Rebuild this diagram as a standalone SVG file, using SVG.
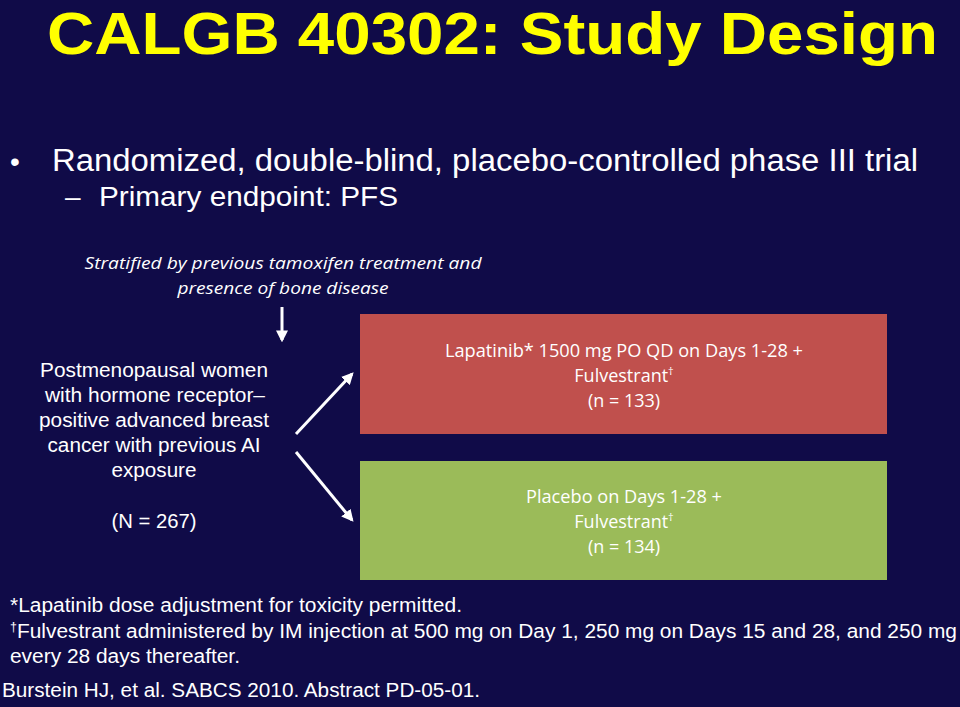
<svg xmlns="http://www.w3.org/2000/svg" width="960" height="707" viewBox="0 0 960 707">
<defs>
<style>
.title{font-family:"Liberation Sans",Arial,sans-serif;font-weight:bold;font-size:60px;fill:#ffff00}
.bul{font-family:"Liberation Sans",Arial,sans-serif;fill:#ffffff}
.it{font-family:"Open Sans","Noto Sans",sans-serif;font-style:italic;font-size:17px;fill:#ffffff;text-anchor:middle}
.lt{font-family:"Liberation Sans",Arial,sans-serif;font-size:20px;fill:#ffffff;text-anchor:middle}
.bx{font-family:"Open Sans","Noto Sans",sans-serif;font-size:18px;fill:#ffffff;text-anchor:middle}
.fn{font-family:"Liberation Sans",Arial,sans-serif;font-size:20px;fill:#ffffff}
.arr{stroke:#ffffff;stroke-width:3;fill:none}
</style>
<marker id="ah" viewBox="0 0 10 10" refX="8" refY="5" markerWidth="4" markerHeight="4" orient="auto" markerUnits="strokeWidth">
<path d="M0,0 L10,5 L0,10 z" fill="#ffffff"/>
</marker>
</defs>
<rect width="960" height="707" fill="#100b48"/>
<text class="title" x="47" y="54" textLength="891" lengthAdjust="spacingAndGlyphs">CALGB 40302: Study Design</text>
<text class="bul" x="10" y="171" font-size="28">•</text>
<text class="bul" x="52" y="171" font-size="31" textLength="866" lengthAdjust="spacingAndGlyphs">Randomized, double-blind, placebo-controlled phase III trial</text>
<text class="bul" x="65" y="206" font-size="28">–</text>
<text class="bul" x="99" y="206" font-size="28" textLength="299" lengthAdjust="spacingAndGlyphs">Primary endpoint: PFS</text>
<g id="strat">
<text class="it" x="283" y="269" textLength="397" lengthAdjust="spacingAndGlyphs">Stratified by previous tamoxifen treatment and</text>
<text class="it" x="283" y="294" textLength="211" lengthAdjust="spacingAndGlyphs">presence of bone disease</text>
</g>
<g id="pop">
<text class="lt" x="154" y="377" textLength="228" lengthAdjust="spacingAndGlyphs">Postmenopausal women</text>
<text class="lt" x="155" y="402" textLength="220" lengthAdjust="spacingAndGlyphs">with hormone receptor–</text>
<text class="lt" x="154" y="427" textLength="230" lengthAdjust="spacingAndGlyphs">positive advanced breast</text>
<text class="lt" x="154" y="452" textLength="213" lengthAdjust="spacingAndGlyphs">cancer with previous AI</text>
<text class="lt" x="154" y="477" textLength="85" lengthAdjust="spacingAndGlyphs">exposure</text>
<text class="lt" x="154" y="528" textLength="85" lengthAdjust="spacingAndGlyphs">(N = 267)</text>
</g>
<g id="armA">
<rect x="360" y="314" width="527" height="120" fill="#c0504d"/>
<text class="bx" x="624" y="357" textLength="358" lengthAdjust="spacingAndGlyphs">Lapatinib* 1500 mg PO QD on Days 1-28 +</text>
<text class="bx" x="624" y="382">Fulvestrant<tspan font-size="11" dy="-7">†</tspan></text>
<text class="bx" x="624" y="407">(n = 133)</text>
</g>
<g id="armB">
<rect x="360" y="461" width="527" height="119" fill="#9bbb59"/>
<text class="bx" x="624" y="503" textLength="196" lengthAdjust="spacingAndGlyphs">Placebo on Days 1-28 +</text>
<text class="bx" x="624" y="528">Fulvestrant<tspan font-size="11" dy="-7">†</tspan></text>
<text class="bx" x="624" y="553">(n = 134)</text>
</g>
<g id="connectors">
<line class="arr" x1="282" y1="307" x2="282" y2="340" marker-end="url(#ah)"/>
<line class="arr" x1="296" y1="434" x2="352" y2="374" marker-end="url(#ah)"/>
<line class="arr" x1="296" y1="452" x2="352" y2="520" marker-end="url(#ah)"/>
</g>
<g id="footnotes">
<text class="fn" x="10" y="612" textLength="452" lengthAdjust="spacingAndGlyphs">*Lapatinib dose adjustment for toxicity permitted.</text>
<text class="fn" x="10" y="638" textLength="947" lengthAdjust="spacingAndGlyphs"><tspan font-size="12" dy="-7">†</tspan><tspan dy="7">Fulvestrant administered by IM injection at 500 mg on Day 1, 250 mg on Days 15 and 28, and 250 mg</tspan></text>
<text class="fn" x="10" y="663" textLength="230" lengthAdjust="spacingAndGlyphs">every 28 days thereafter.</text>
<text class="fn" x="2" y="697" textLength="478" lengthAdjust="spacingAndGlyphs">Burstein HJ, et al. SABCS 2010. Abstract PD-05-01.</text>
</g>
</svg>
